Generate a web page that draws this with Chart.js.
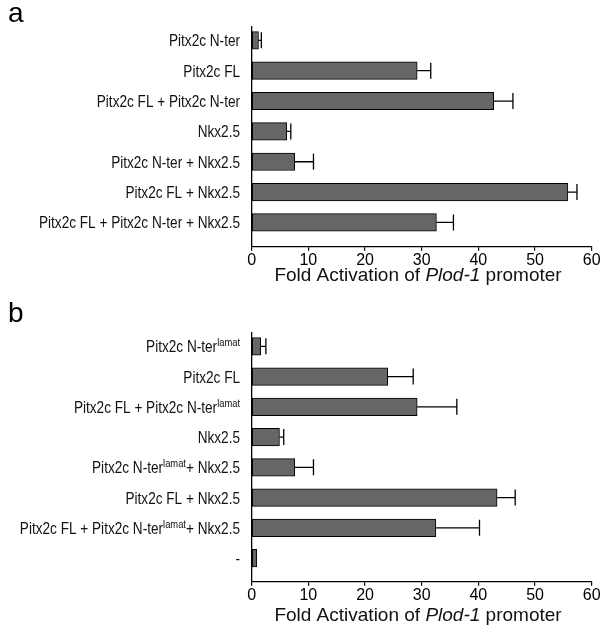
<!DOCTYPE html>
<html>
<head>
<meta charset="utf-8">
<script src="https://cdn.jsdelivr.net/npm/chart.js@4"></script>
<style>
body{margin:0;background:#fff;}
#wrap{position:relative;width:602px;height:631px;}
canvas{position:absolute;left:0;}
</style>
</head>
<body>
<div id="wrap">
<canvas id="chartA" width="602" height="300" style="top:0"></canvas>
<canvas id="chartB" width="602" height="331" style="top:300px"></canvas>
</div>
<script>
// panel a
const labelsA = ["Pitx2c N-ter", "Pitx2c FL", "Pitx2c FL + Pitx2c N-ter", "Nkx2.5",
  "Pitx2c N-ter + Nkx2.5", "Pitx2c FL + Nkx2.5", "Pitx2c FL + Pitx2c N-ter + Nkx2.5"];
const foldA = [1.2, 29.2, 42.7, 6.2, 7.6, 55.8, 32.6];
const errA = [0.5, 2.4, 3.4, 0.7, 3.3, 1.6, 3.0];

// panel b  ({...} = superscript)
const labelsB = ["Pitx2c N-ter{lamat}", "Pitx2c FL", "Pitx2c FL + Pitx2c N-ter{lamat}", "Nkx2.5",
  "Pitx2c N-ter{lamat}+ Nkx2.5", "Pitx2c FL + Nkx2.5", "Pitx2c FL + Pitx2c N-ter{lamat}+ Nkx2.5", "-"];
const foldB = [1.6, 24.0, 29.2, 4.9, 7.6, 43.3, 32.5, 0.9];
const errB = [0.9, 4.5, 7.0, 0.75, 3.3, 3.2, 7.7, 0];

const xTicks = [0, 10, 20, 30, 40, 50, 60];

const FONT = "'Liberation Sans', Arial, sans-serif";

// error bars (positive side only, like the figure)
const errorBars = {
  id: 'errorBars',
  afterDatasetsDraw(chart, args, opts) {
    const ctx = chart.ctx;
    const xs = chart.scales.x;
    const meta = chart.getDatasetMeta(0);
    const vals = chart.data.datasets[0].data;
    ctx.save();
    ctx.strokeStyle = '#000';
    ctx.lineWidth = 1.3;
    meta.data.forEach((bar, i) => {
      const e = opts.errors[i];
      if (!e) return;
      const x1 = xs.getPixelForValue(vals[i].x + e);
      ctx.beginPath();
      ctx.moveTo(bar.x, bar.y);
      ctx.lineTo(x1, bar.y);
      ctx.moveTo(x1, bar.y - 8);
      ctx.lineTo(x1, bar.y + 8);
      ctx.stroke();
    });
    ctx.restore();
  }
};

// category labels with superscripts, title with italic part, panel letter
const figText = {
  id: 'figText',
  afterDraw(chart, args, opts) {
    const ctx = chart.ctx;
    const ys = chart.scales.y;
    ctx.save();
    ctx.fillStyle = '#111';
    ctx.textBaseline = 'alphabetic';
    opts.labels.forEach((lab, i) => {
      const y = ys.getPixelForValue(i) + 6;
      const parts = lab.split(/(\{[^}]*\})/).filter(p => p.length);
      const segs = parts.map(p => {
        const sup = p[0] === '{';
        const txt = sup ? p.slice(1, -1) : p;
        ctx.font = (sup ? '11px ' : '16px ') + FONT;
        return {txt, sup, w: ctx.measureText(txt).width};
      });
      const total = segs.reduce((s, g) => s + g.w, 0);
      ctx.save();
      ctx.translate(240, y);
      ctx.scale(0.85, 1);
      let x = -total;
      segs.forEach(g => {
        ctx.font = (g.sup ? '11px ' : '16px ') + FONT;
        ctx.fillText(g.txt, x, g.sup ? -6 : 0);
        x += g.w;
      });
      ctx.restore();
    });

    // axis title
    const tparts = [['Fold Activation of ', ''], ['Plod-1', 'italic '], [' promoter', '']];
    let tw = 0;
    tparts.forEach(p => { ctx.font = p[1] + '19px ' + FONT; p.push(ctx.measureText(p[0]).width); tw += p[2]; });
    let tx = 418 - tw / 2;
    tparts.forEach(p => { ctx.font = p[1] + '19px ' + FONT; ctx.fillText(p[0], tx, opts.titleY); tx += p[2]; });

    // panel letter
    ctx.font = '28px ' + FONT;
    ctx.fillStyle = '#000';
    ctx.fillText(opts.letter, 8, 22);
    ctx.restore();
  }
};

function makeChart(id, labels, values, errs, yMax, axisTop, axisBottom, titleY, letter) {
  const canvas = document.getElementById(id);
  return new Chart(canvas, {
    type: 'bar',
    data: {
      datasets: [{
        data: values.map((v, i) => ({x: v, y: i})),
        backgroundColor: '#666666',
        borderColor: '#000',
        borderWidth: 1,
        borderSkipped: false,
        barThickness: 17.5
      }]
    },
    options: {
      indexAxis: 'y',
      responsive: false,
      animation: false,
      layout: {padding: {top: axisTop, right: 10.3, left: 0, bottom: 0}},
      plugins: {
        legend: {display: false},
        tooltip: {enabled: false},
        errorBars: {errors: errs},
        figText: {labels: labels, titleY: titleY, letter: letter}
      },
      scales: {
        x: {
          type: 'linear',
          min: 0,
          max: 60,
          afterBuildTicks: s => { s.ticks = xTicks.map(v => ({value: v})); },
          afterFit: s => { s.height = canvas.height - axisBottom; },
          ticks: {color: '#000', font: {family: FONT, size: 16}, padding: 0},
          grid: {drawOnChartArea: false, color: '#000', tickLength: 4, lineWidth: 1.2},
          border: {color: '#000', width: 1.3}
        },
        y: {
          type: 'linear',
          reverse: true,
          offset: false,
          min: -0.45,
          max: yMax,
          afterBuildTicks: s => { s.ticks = labels.map((l, i) => ({value: i})); },
          afterFit: s => { s.width = 251.7; },
          ticks: {display: false},
          grid: {display: false, offset: false},
          border: {color: '#000', width: 1.3}
        }
      }
    },
    plugins: [errorBars, figText]
  });
}

makeChart('chartA', labelsA, foldA, errA, 6.8, 26.7, 246.7, 281, 'a');
makeChart('chartB', labelsB, foldB, errB, 7.78, 32.7, 281.7, 321, 'b');
</script>
</body>
</html>
